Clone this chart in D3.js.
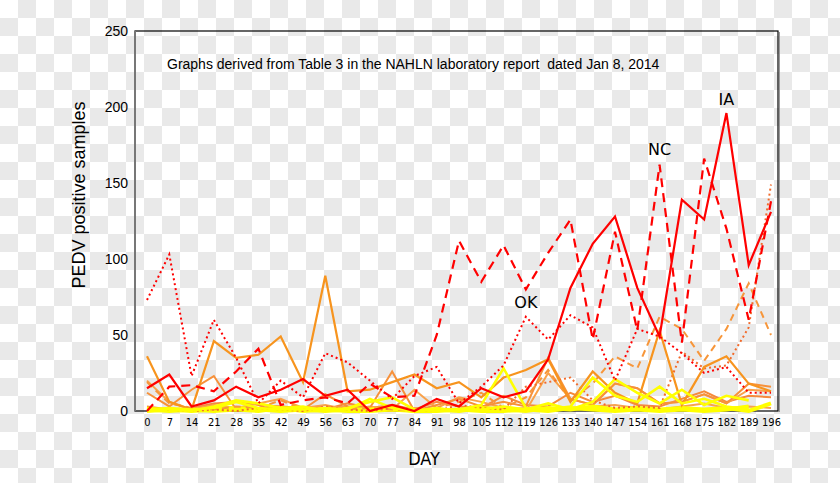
<!DOCTYPE html>
<html><head><meta charset="utf-8">
<script src="https://cdn.jsdelivr.net/npm/d3@7"></script>
<style>html,body{margin:0;padding:0;background:#fff;}svg{display:block;}</style>
</head><body>
<svg id="chart" width="840" height="483"></svg>
<script>
const days = d3.range(0, 197, 7);
const yTicks = [0, 50, 100, 150, 200, 250];

// state series (values per 7-day step, day 0..196)
const IA = [15,24,3,7,16,9,14,21,10,14,0,4,0,8,3,15,9,13,34,81,110,128,81,49,139,126,196,96,131];
const NC = [0,16,17,13,26,41,4,7,9,5,18,9,10,50,112,85,109,80,104,126,47,118,53,162,45,166,120,60,138];
const OK = [73,103,23,60,35,5,20,9,38,32,20,8,23,29,5,16,30,62,47,63,55,20,54,49,38,25,29,12,12];
const orangeDotted = [2,1,0,1,0,2,1,0,3,1,0,2,1,0,4,2,1,16,19,22,7,2,3,2,39,28,30,55,149];
const orangeA = [36,6,1,46,35,37,49,19,89,13,14,19,24,15,19,9,22,27,34,6,26,12,5,53,4,29,36,18,13];
const orangeB = [12,3,14,23,1,2,3,1,11,3,2,26,0,4,8,3,6,3,35,8,4,18,15,5,6,11,5,18,16];
const orangeDashed = [19,5,2,1,3,2,7,1,3,1,2,1,0,2,6,12,2,9,27,7,18,36,28,62,54,33,54,84,50];
const lightA = [20,6,1,4,2,5,8,2,4,1,3,1,14,2,9,6,2,0,25,8,4,18,15,5,6,11,5,14,13];
const lightB = [3,1,2,5,6,4,3,2,1,5,2,4,1,6,3,2,10,4,3,12,6,10,4,3,8,13,6,10,9];
const lightC = [1,0,1,2,1,2,0,1,2,3,1,0,2,1,0,3,1,2,1,2,3,4,2,1,3,5,2,3,2];
const yellowA = [2,1,0,3,7,5,2,3,0,2,6,9,1,0,1,4,28,2,1,3,22,10,6,16,5,8,3,1,null];
const yellowB = [1,2,1,2,6,2,1,1,2,1,8,2,0,2,0,1,3,1,5,1,6,21,12,5,14,4,10,7,null];
const yellowC = [0,1,0,1,2,1,0,1,0,1,1,2,0,1,0,2,1,0,2,1,3,1,2,1,2,1,2,0,5];
const yellowD = [1,0,1,0,1,0,2,0,1,0,0,1,0,0,1,0,0,1,0,2,1,0,1,0,1,0,1,3,null];

const labels = [{text:"IA", day:182, value:196}, {text:"NC", day:161, value:162}, {text:"OK", day:119, value:62}];
const note = "Graphs derived from Table 3 in the NAHLN laboratory report  dated Jan 8, 2014";

const seriesList = [
  {v: lightC, c:"#f7a24e", w:2, d:null},
  {v: lightB, c:"#f58a3c", w:2, d:null},
  {v: lightA, c:"#f9a24b", w:2, d:null},
  {v: orangeB, c:"#f7913a", w:2, d:null},
  {v: yellowD, c:"#ffff00", w:4, d:null},
  {v: yellowC, c:"#ffff00", w:4, d:null},
  {v: orangeDashed, c:"#f7963a", w:2, d:"7,5"},
  {v: orangeDotted, c:"#f26a2a", w:2, d:"2,3"},
  {v: orangeA, c:"#f7941e", w:2.2, d:null},
  {v: yellowB, c:"#ffff00", w:2.6, d:null},
  {v: yellowA, c:"#ffff00", w:2.6, d:null},
  {v: OK, c:"#ff0000", w:2, d:"2,3"},
  {v: NC, c:"#ff0000", w:2.2, d:"9,6"},
  {v: IA, c:"#ff0000", w:2.2, d:null}
];

const svg = d3.select("#chart");
// checkerboard background
const defs = svg.append("defs");
const pat = defs.append("pattern").attr("id","chk").attr("width",36).attr("height",36).attr("patternUnits","userSpaceOnUse");
pat.append("rect").attr("width",36).attr("height",36).attr("fill","#ffffff");
pat.append("rect").attr("x",18).attr("y",0).attr("width",18).attr("height",18).attr("fill","#e9e9e9");
pat.append("rect").attr("x",0).attr("y",18).attr("width",18).attr("height",18).attr("fill","#e9e9e9");
svg.append("rect").attr("width",840).attr("height",483).attr("fill","url(#chk)");

const x = d3.scaleLinear().domain([0,196]).range([147,771]);
const y = d3.scaleLinear().domain([0,250]).range([411,31]);

// frame
svg.append("rect").attr("x",135).attr("y",31).attr("width",643).attr("height",380)
  .attr("fill","none").attr("stroke","#000").attr("stroke-width",1.2);
svg.append("line").attr("x1",779.5).attr("x2",779.5).attr("y1",32).attr("y2",412).attr("stroke","#999").attr("stroke-width",1);
svg.append("line").attr("x1",135).attr("x2",135).attr("y1",31).attr("y2",411).attr("stroke","#777").attr("stroke-width",2);

// axes
const yAxis = d3.axisLeft(y).tickValues(yTicks).tickSize(0).tickPadding(0);
const gy = svg.append("g").attr("transform","translate(128,0)").call(yAxis);
gy.select(".domain").remove();
gy.selectAll("text").attr("font-family","Liberation Sans, Arial, sans-serif").attr("font-size",14).attr("fill","#000").attr("dy","0.35em");

const xAxis = d3.axisBottom(x).tickValues(days).tickSize(0).tickPadding(0);
const gx = svg.append("g").attr("transform","translate(0,418)").call(xAxis);
gx.select(".domain").remove();
gx.selectAll("text").attr("font-family","Liberation Sans Narrow, DejaVu Sans Condensed, sans-serif").attr("font-stretch","condensed").attr("font-size",11).attr("fill","#000");

// lines
const line = d3.line().defined(d => d[1] != null).x(d => x(d[0])).y(d => y(d[1]));
const g = svg.append("g");
seriesList.forEach(s => {
  g.append("path").datum(days.map((dd,i) => [dd, s.v[i] === undefined ? null : s.v[i]]))
    .attr("d", line).attr("fill","none").attr("stroke", s.c).attr("stroke-width", s.w)
    .attr("stroke-dasharray", s.d).attr("stroke-linejoin","miter");
});

// texts
svg.append("text").attr("x",167).attr("y",69).attr("font-family","Liberation Sans, Arial, sans-serif").attr("font-size",14).text(note).style("white-space","pre");
svg.append("text").attr("transform","translate(85,195) rotate(-90)").attr("text-anchor","middle")
  .attr("font-family","Liberation Sans, Arial, sans-serif").attr("font-size",18).text("PEDV positive samples");
svg.append("text").attr("x",424).attr("y",465).attr("text-anchor","middle")
  .attr("font-family","DejaVu Sans Condensed, DejaVu Sans, sans-serif").attr("font-size",18).text("DAY");
const off = {IA:[0,-8], NC:[0,-10], OK:[0,-9]};
labels.forEach(l => {
  svg.append("text").attr("x", x(l.day) + off[l.text][0]).attr("y", y(l.value) + off[l.text][1])
    .attr("text-anchor","middle").attr("font-family","DejaVu Sans, sans-serif").attr("font-size",16).text(l.text);
});
</script>
</body></html>
